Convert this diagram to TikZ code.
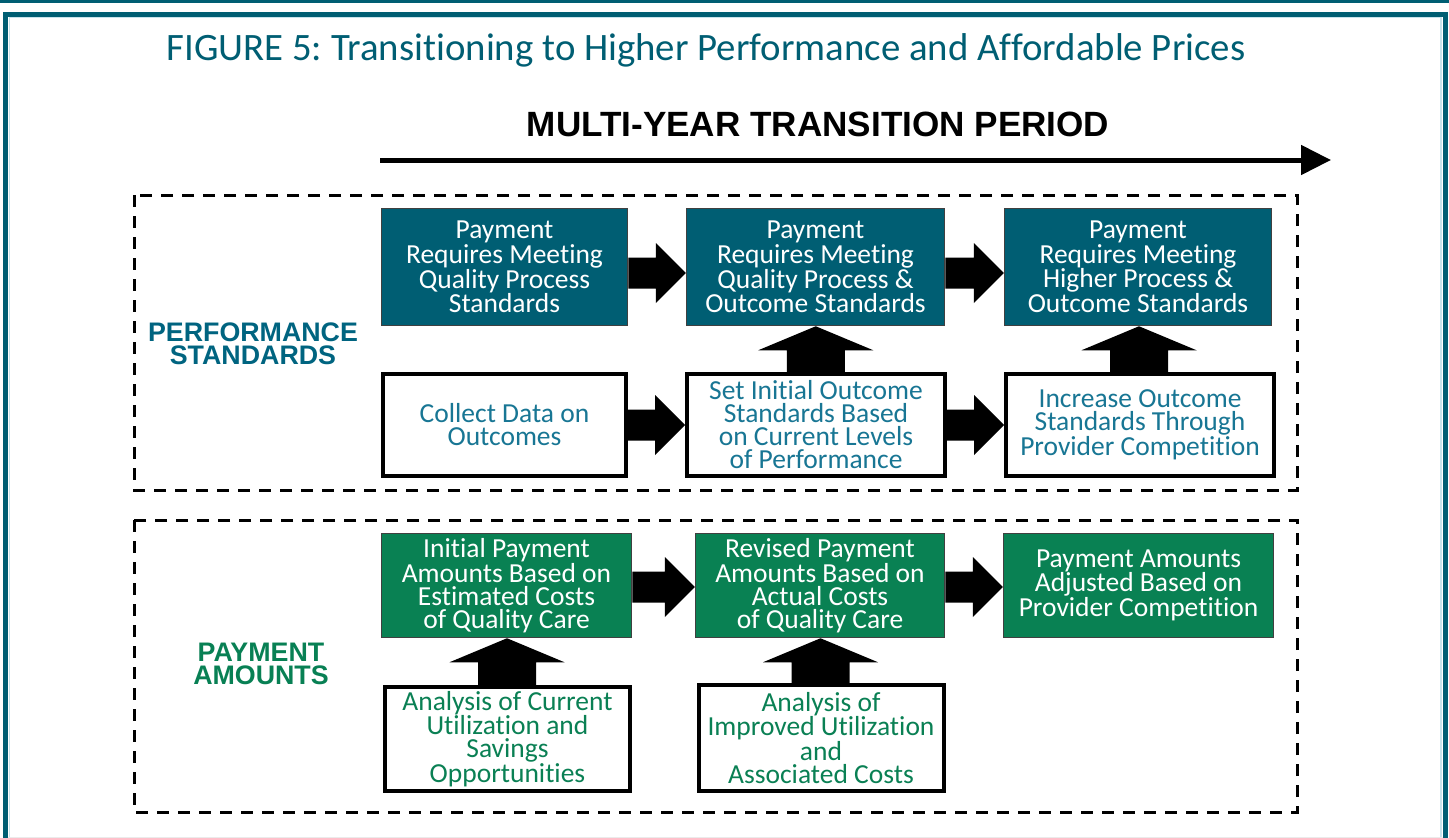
\documentclass[tikz,border=0pt]{standalone}
\usepackage{fontspec}
\setmainfont{Carlito}[Ligatures=NoCommon]
\newfontfamily\arialfont{Liberation Sans}
\usetikzlibrary{arrows.meta,calc}
\frenchspacing

\definecolor{frameteal}{RGB}{0,94,115}
\definecolor{boxteal}{RGB}{0,94,115}
\definecolor{boxgreen}{RGB}{9,129,83}
\definecolor{txtteal}{RGB}{24,118,148}
\definecolor{txtgreen}{RGB}{10,128,84}
\definecolor{labteal}{RGB}{0,100,128}
\definecolor{labgreen}{RGB}{8,128,84}
\definecolor{framelight}{RGB}{200,228,236}

% right block arrow from east of #2 to west of #3, optional shift #1 (down)
\newcommand{\rarr}[3][0pt]{%
 \fill let \p1=(#2.east), \p2=(#3.west), \p3=($(#2.east)!0.5!(#3.west)$) in
 (\x1,\y3-#1+15.5pt) -- (\x2-30pt,\y3-#1+15.5pt) -- (\x2-30pt,\y3-#1+30pt) -- (\x2,\y3-#1)
 -- (\x2-30pt,\y3-#1-30pt) -- (\x2-30pt,\y3-#1-15.5pt) -- (\x1,\y3-#1-15.5pt) -- cycle;}
% up block arrow from north of #1 to south of #2
\newcommand{\uarr}[2]{%
 \fill let \p1=(#1.north), \p2=(#2.south), \p3=($(#1.north)!0.5!(#2.south)$) in
 (\x3-29pt,\y1) -- (\x3-29pt,\y2-24pt) -- (\x3-57.5pt,\y2-24pt) -- (\x3,\y2)
 -- (\x3+57.5pt,\y2-24pt) -- (\x3+29pt,\y2-24pt) -- (\x3+29pt,\y1) -- cycle;}

\tikzset{
  boxtext/.style={align=center, inner sep=0pt, font=\fontsize{27.5}{23}\selectfont},
  tealbox/.style={boxtext, rectangle, fill=boxteal, draw=black!75, line width=1.5pt, text=white},
  greenbox/.style={boxtext, rectangle, fill=boxgreen, draw=black!75, line width=1.5pt, text=white},
  whitebox/.style={boxtext, rectangle, fill=white, draw=black, line width=4pt},
  dashbox/.style={draw=black, line width=3pt, dash pattern=on 12pt off 9pt},
  sidelabel/.style={align=center, inner sep=0pt, font=\arialfont\bfseries\fontsize{26.8}{23.5}\selectfont},
}

\begin{document}
\begin{tikzpicture}[x=1pt,y=-1pt]
\useasboundingbox (0,0) rectangle (1449,838);

% outer frame
\draw[frameteal, line width=3pt] (0,1.5) -- (1449,1.5);
\draw[framelight, line width=1.5pt] (9.5,838) -- (9.5,17.5) -- (1441,17.5) -- (1441,838);
\draw[frameteal, line width=5pt, line join=miter] (5.5,838) -- (5.5,14) -- (1445,14) -- (1445,838);
\draw[black!8, line width=1pt] (8,837.5) -- (1443,837.5);

% title
\node[anchor=base, inner sep=0pt, text=frameteal, font=\fontsize{38.8}{42}\selectfont] (title) at (706,60)
  {FIGURE 5: Transitioning to Higher Performance and Affordable Prices};

% period heading and arrow
\node[anchor=base, inner sep=0pt, font=\arialfont\bfseries\fontsize{35.1}{38}\selectfont] (period) at (818,136)
  {MULTI-YEAR TRANSITION PERIOD};
\coordinate (tstart) at (380,160);
\coordinate (tend) at (1331,160);
\draw[line width=5pt, -{Triangle[length=30pt,width=29pt]}] (tstart) -- (tend);

% dashed groups
\draw[dashbox] (134,195) rectangle (1297,490);
\draw[dashbox] (134,520) rectangle (1297,812);

% side labels
\node[sidelabel, text=labteal] (perf) at (253,344) {PERFORMANCE\\STANDARDS};
\node[sidelabel, text=labgreen] (pay) at (261,664) {PAYMENT\\AMOUNTS};

% row 1
\node[tealbox, minimum width=246pt, minimum height=117pt] (A) at (504.5,267)
  {Payment\\Requires Meeting\\Quality Process\\Standards};
\node[tealbox, minimum width=258pt, minimum height=117pt] (B) at (815.5,267)
  {Payment\\Requires Meeting\\Quality Process \&\\Outcome Standards};
\node[tealbox, minimum width=267pt, minimum height=117pt] (C) at (1138,267)
  {Payment\\Requires Meeting\\Higher Process \&\\Outcome Standards};

% row 2
\node[whitebox, text=txtteal, minimum width=243pt, minimum height=102pt] (D) at (504.5,425)
  {Collect Data on\\Outcomes};
\node[whitebox, text=txtteal, minimum width=258pt, minimum height=102pt] (E) at (816,425)
  {Set Initial Outcome\\Standards Based\\on Current Levels\\of Performance};
\node[whitebox, text=txtteal, minimum width=268pt, minimum height=102pt] (F) at (1140,425)
  {Increase Outcome\\Standards Through\\Provider Competition};

% row 3
\node[greenbox, minimum width=250pt, minimum height=104pt] (G) at (506.5,585.5)
  {Initial Payment\\Amounts Based on\\Estimated Costs\\of Quality Care};
\node[greenbox, minimum width=249pt, minimum height=104pt] (H) at (820,585.5)
  {Revised Payment\\Amounts Based on\\Actual Costs\\of Quality Care};
\node[greenbox, minimum width=270pt, minimum height=104pt] (I) at (1138.5,585.5)
  {Payment Amounts\\Adjusted Based on\\Provider Competition};

% row 4
\node[whitebox, text=txtgreen, minimum width=245pt, minimum height=104pt] (J) at (507.5,739)
  {Analysis of Current\\Utilization and\\Savings\\Opportunities};
\node[whitebox, text=txtgreen, minimum width=245pt, minimum height=106pt] (K) at (821,738)
  {Analysis of\\Improved Utilization\\and\\Associated Costs};

% block arrows
\rarr[6pt]{A}{B}
\rarr[6pt]{B}{C}
\rarr{D}{E}
\rarr{E}{F}
\rarr[1.5pt]{G}{H}
\rarr[1.5pt]{H}{I}
\uarr{E}{B}
\uarr{F}{C}
\uarr{J}{G}
\uarr{K}{H}
\end{tikzpicture}
\end{document}
